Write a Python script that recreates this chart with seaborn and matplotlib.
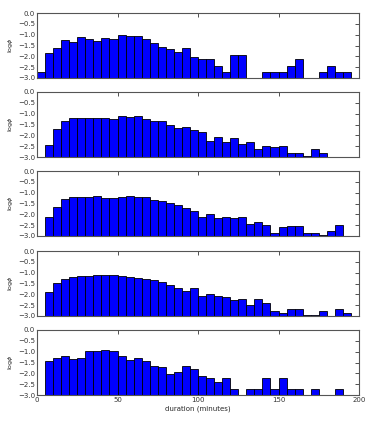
import numpy as np
import seaborn as sns
import matplotlib
matplotlib.use("Agg")
import matplotlib.pyplot as plt

# ===== DATA (log phi per 5-minute duration bin, NaN = empty bin) =====
bin_edges = list(range(0, 205, 5))
nan = np.nan

panel1 = [-2.73, -1.83, -1.63, -1.26, -1.35, -1.13, -1.19, -1.28, -1.14, -1.22,
          -1.03, -1.07, -1.08, -1.19, -1.39, -1.57, -1.66, -1.78, -1.63, -2.04,
          -2.13, -2.13, -2.44, -2.73, -1.95, -1.95, nan, nan, -2.73, -2.73,
          -2.73, -2.44, -2.13, nan, nan, -2.73, -2.44, -2.73, -2.73, nan]
panel2 = [nan, -2.45, -1.71, -1.36, -1.21, -1.21, -1.18, -1.21, -1.18, -1.26,
          -1.12, -1.15, -1.12, -1.26, -1.33, -1.32, -1.53, -1.64, -1.61, -1.77,
          -1.85, -2.24, -2.08, -2.33, -2.14, -2.42, -2.30, -2.64, -2.47, -2.53,
          -2.47, -2.82, -2.82, -2.94, -2.64, -2.82, nan, nan, nan, nan]
panel3 = [nan, -2.11, -1.68, -1.29, -1.21, -1.20, -1.21, -1.17, -1.23, -1.23,
          -1.18, -1.17, -1.18, -1.20, -1.33, -1.39, -1.48, -1.56, -1.70, -1.85,
          -2.11, -2.00, -2.17, -2.12, -2.18, -2.14, -2.45, -2.36, -2.48, -2.88,
          -2.58, -2.53, -2.53, -2.88, -2.88, -2.97, -2.77, -2.48, nan, nan]
panel4 = [nan, -1.90, -1.46, -1.31, -1.19, -1.14, -1.14, -1.10, -1.10, -1.13,
          -1.16, -1.20, -1.25, -1.29, -1.34, -1.45, -1.55, -1.69, -1.84, -1.72,
          -2.06, -2.00, -2.06, -2.11, -2.26, -2.23, -2.49, -2.23, -2.40, -2.77,
          -2.86, -2.69, -2.69, -2.94, -2.94, -2.77, nan, -2.69, -2.85, nan]
panel5 = [nan, -1.42, -1.27, -1.21, -1.33, -1.29, -0.98, -0.95, -0.94, -0.95,
          -1.20, -1.38, -1.30, -1.45, -1.64, -1.71, -2.02, -1.94, -1.67, -1.80,
          -2.11, -2.23, -2.41, -2.23, -2.71, nan, -2.71, -2.71, -2.23, -2.71,
          -2.23, -2.71, -2.71, nan, -2.71, nan, nan, -2.71, nan, nan]

panels = [panel1, panel2, panel3, panel4, panel5]
y_floor = -3.0

sns.set_style("white")
plt.rcParams["font.family"] = ["DejaVu Sans"]

fig = plt.figure(figsize=(3.74, 4.21), dpi=100)

W, H = 374.0, 421.0
left, right = 37, 359
tops = [13, 92, 171, 251, 330]
h = 65

edges = np.array(bin_edges[:-1])
for i, vals in enumerate(panels):
    ax = fig.add_axes([left / W, 1 - (tops[i] + h) / H, (right - left) / W, h / H])
    vals = np.array(vals)
    keep = ~np.isnan(vals)
    ax.bar(edges[keep], vals[keep] - y_floor, width=5, bottom=y_floor, align="edge",
           color="#0000ff", edgecolor="black", linewidth=0.6)
    ax.set_xlim(0, 200)
    ax.set_ylim(-3.0, 0.0)
    ax.set_yticks(np.arange(-3.0, 0.01, 0.5))
    ax.set_yticklabels([f"{t:.1f}".replace("-", "\u2212") for t in np.arange(-3.0, 0.01, 0.5)])
    ax.set_xticks([0, 50, 100, 150, 200])
    ax.tick_params(direction="in", length=3, width=0.6, top=True, right=True,
                   labelsize=5, pad=1.5, colors="#333333")
    for s in ax.spines.values():
        s.set_linewidth(0.8)
        s.set_color("#555555")
    ax.set_ylabel(r"log$\phi$", fontsize=4.5, labelpad=2)
    if i < 4:
        ax.set_xticklabels([])
    else:
        ax.set_xlabel("duration (minutes)", fontsize=5, labelpad=2)

fig.savefig("out.png", dpi=100)
